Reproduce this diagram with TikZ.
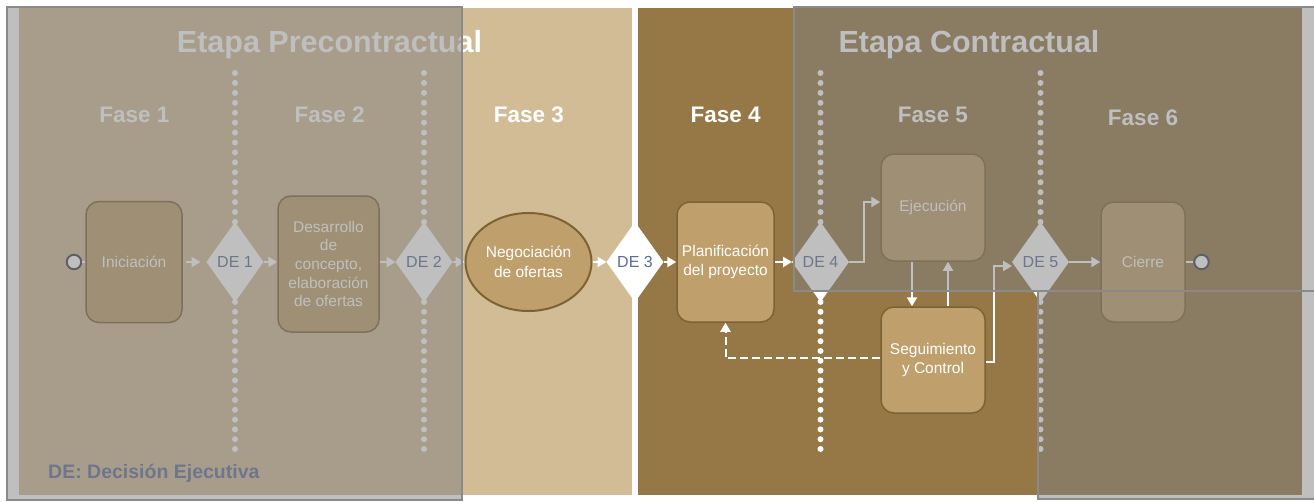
\documentclass[tikz,border=0pt]{standalone}
\usepackage{fontspec}
\setmainfont{Liberation Sans}
\usetikzlibrary{shapes.geometric,arrows.meta,calc}

\definecolor{panelTan}{HTML}{D2BC96}
\definecolor{panelBrown}{HTML}{967846}
\definecolor{boxFill}{HTML}{BF9F6B}
\definecolor{boxLine}{HTML}{7D6234}
\definecolor{deText}{HTML}{5A6C9B}
\definecolor{shade}{HTML}{808080}
\definecolor{shadeEdge}{HTML}{8A8A8A}
\definecolor{ringLine}{HTML}{3C4249}

\begin{document}
\begin{tikzpicture}[x=1pt,y=-1pt,
  stage/.style={text=white, font=\fontsize{30.5}{36}\selectfont\bfseries, anchor=base, inner sep=0},
  phase/.style={text=white, font=\fontsize{22.5}{27}\selectfont\bfseries, anchor=base, inner sep=0},
  task/.style={draw=boxLine, line width=1.5pt, fill=boxFill, rounded corners=13pt,
    text=white, align=center, font=\fontsize{15.5}{18.7}\selectfont, inner sep=0},
  gate/.style={diamond, fill=white, inner sep=0, outer sep=0,
    minimum width=57pt, minimum height=80pt, text=deText, font=\fontsize{16}{18}\selectfont},
  terminal/.style={circle, draw=ringLine, line width=2pt, fill=white, minimum size=14.5pt, inner sep=0},
  flow/.style={draw=white, line width=2pt, -{Triangle[length=9pt,width=10pt]}},
  link/.style={draw=white, line width=2pt},
  veil/.style={fill=shade, fill opacity=0.5, draw=shadeEdge, draw opacity=1, line width=2pt}
]
\useasboundingbox (0,0) rectangle (1314,501);
\clip (0,0) rectangle (1314,501);
\fill[white] (0,0) rectangle (1314,501);

% phase panels
\fill[panelTan] (19,8) rectangle (632,495);
\fill[panelBrown] (638,8) rectangle (1302,495);

% headings
\node[stage] (pre) at (329.5,52) {Etapa Precontractual};
\node[stage] (con) at (969,52) {Etapa Contractual};
\node[phase] (f1) at (134.5,122) {Fase 1};
\node[phase] (f2) at (329.7,122) {Fase 2};
\node[phase] (f3) at (529,122) {Fase 3};
\node[phase] (f4) at (725.6,122) {Fase 4};
\node[phase] (f5) at (933,122) {Fase 5};
\node[phase] (f6) at (1143,125) {Fase 6};
\node[anchor=base west, inner sep=0, text=deText, font=\fontsize{19.5}{23}\selectfont\bfseries]
  (legend) at (48,478) {DE: Decisión Ejecutiva};

% dotted phase separators
\foreach \x in {235,424,820.5,1040.5}{
  \foreach \i in {0,...,15}{
    \fill[white] (\x,73+9.93*\i) circle (3pt);
    \fill[white] (\x,302+9.8*\i) circle (3pt);
  }
}

% process nodes
\node[terminal] (start) at (74,262) {};
\node[task, minimum width=96pt, minimum height=121pt] (ini) at (134,262) {Iniciación};
\node[gate] (de1) at (235,262) {DE 1};
\node[task, minimum width=101pt, minimum height=136pt] (des) at (328.5,264)
  {Desarrollo\\de\\concepto,\\elaboración\\de ofertas};
\node[gate] (de2) at (424,262) {DE 2};
\node[ellipse, draw=boxLine, line width=2pt, fill=boxFill, minimum width=126pt, minimum height=98pt,
  inner sep=0, text=white, align=center, font=\fontsize{15.5}{19.5}\selectfont] (neg) at (528.5,262)
  {Negociación\\de ofertas};
\node[gate] (de3) at (635,262) {DE 3};
\node[task, minimum width=97pt, minimum height=120pt] (pla) at (725.5,262) {Planificación\\del proyecto};
\node[gate] (de4) at (820.5,262) {DE 4};
\node[task, minimum width=104pt, minimum height=107pt] (eje) at (933,207.5) {Ejecución};
\node[task, minimum width=104pt, minimum height=106pt] (seg) at (933,360) {Seguimiento\\y Control};
\node[gate] (de5) at (1040.5,262) {DE 5};
\node[task, minimum width=84pt, minimum height=120pt] (cie) at (1143,262) {Cierre};
\node[terminal] (end) at (1201.5,262) {};

% connectors
\draw[link] (start) -- (ini);
\draw[flow, shorten <=3pt, shorten >=6pt] (ini) -- (de1);
\draw[flow] (de1.east) -- (de1.east -| des.west);
\draw[flow] (de2.west -| des.east) -- (de2.west);
\draw[flow] (de2) -- (neg);
\draw[flow] (neg) -- (de3);
\draw[flow] (de3) -- (pla);
\draw[flow] (pla) -- (de4);
\coordinate (j1) at (864,202);
\draw[flow] (de4.east) -| (j1) -- (j1 -| eje.west);
\draw[flow] ([xshift=-21pt]eje.south) -- ([xshift=-21pt]seg.north);
\draw[flow] ([xshift=15pt]seg.north) -- ([xshift=15pt]eje.south);
\coordinate (j2) at (994,266);
\draw[flow] ([yshift=-2pt]seg.east) -| (j2) -- (j2 -| de5.west);
\draw[flow] (de5) -- (cie);
\draw[link] (cie) -- (end);
\draw[flow, dash pattern=on 8pt off 4pt] ([yshift=2pt]seg.west) -| (pla.south);

% stage veils
\path[veil] (7,7) rectangle (462,500);
\path[veil] (794,7) rectangle (1320,291);
\path[veil] (1038,291) rectangle (1320,499);
\end{tikzpicture}
\end{document}
